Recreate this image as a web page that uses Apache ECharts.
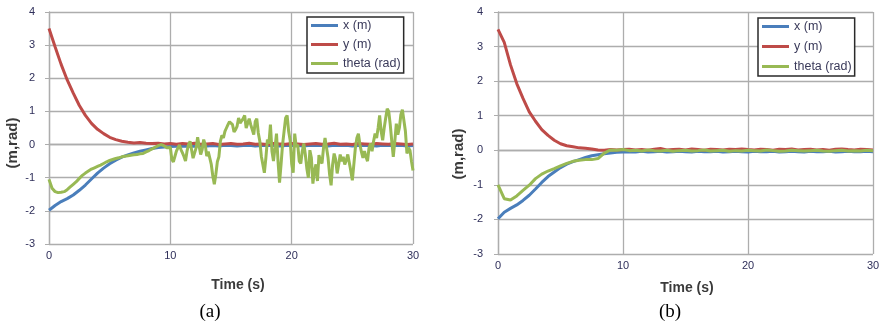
<!DOCTYPE html>
<html>
<head>
<meta charset="utf-8">
<script src="https://cdn.jsdelivr.net/npm/echarts@6/dist/echarts.min.js"></script>
<style>
  html, body { margin: 0; padding: 0; background: #ffffff; }
  #chart { width: 892px; height: 327px; }
</style>
</head>
<body>
<div id="chart"></div>
<script>
// Pose error responses: x (m), y (m), theta (rad) over 0–30 s.
// Smooth states sampled every 0.5 s; heading of run (a) every 0.25 s up to 10 s,
// then every 0.125 s once it starts to chatter.
const seriesNames = ['x (m)', 'y (m)', 'theta (rad)'];
const xTicks = [0, 10, 20, 30];
const yTicks = [-3, -2, -1, 0, 1, 2, 3, 4];
const panelLabels = ['(a)', '(b)'];

// run (a)
const xA = [-1.98,-1.84,-1.72,-1.63,-1.52,-1.38,-1.22,-1.04,-0.86,-0.71,
  -0.58,-0.47,-0.38,-0.31,-0.25,-0.2,-0.16,-0.12,-0.09,-0.07,
  -0.06,-0.05,-0.05,-0.04,-0.05,-0.03,-0.04,-0.03,-0.04,-0.02,
  -0.03,-0.04,-0.03,-0.02,-0.04,-0.03,-0.03,-0.02,-0.04,-0.03,
  -0.02,-0.03,-0.04,-0.02,-0.03,-0.03,-0.04,-0.02,-0.03,-0.02,
  -0.04,-0.03,-0.02,-0.03,-0.04,-0.02,-0.03,-0.03,-0.02,-0.04,
  -0.03];
const yA = [3.5,2.95,2.42,1.95,1.55,1.18,0.88,0.64,0.46,0.33,
  0.22,0.15,0.1,0.07,0.05,0.06,0.04,0.03,0.04,0.02,
  0.03,0.01,0.03,0.02,0.04,0.01,0.02,0.03,0.0,0.02,
  0.03,0.01,0.02,0.04,0.01,0.02,0.0,0.03,0.02,0.01,
  0.03,0.02,0.0,0.02,0.03,0.01,0.02,0.04,0.01,0.02,
  0.0,0.03,0.02,0.01,0.03,0.02,0.01,0.03,0.02,0.0,
  0.02];
// 0 … 9.75 s, step 0.25 s
const thetaAStart = [
  -1.05,-1.32,-1.42,-1.45,
  -1.44,-1.42,-1.36,-1.28,
  -1.2,-1.12,-1.02,-0.93,
  -0.86,-0.8,-0.74,-0.7,
  -0.66,-0.62,-0.57,-0.52,
  -0.48,-0.45,-0.42,-0.4,
  -0.37,-0.35,-0.34,-0.32,
  -0.31,-0.3,-0.28,-0.27,
  -0.22,-0.18,-0.13,-0.08,
  -0.03,0.0,-0.04,-0.1];
// 10 … 30 s, step 0.125 s
const thetaAChatter = [
  -0.08,-0.45,-0.52,-0.36,-0.2,-0.1,-0.01,-0.15,
  -0.25,-0.36,-0.5,-0.2,0.0,0.1,0.13,-0.41,
  -0.47,-0.1,0.22,-0.05,-0.3,-0.15,0.15,0.0,
  -0.35,-0.21,-0.2,-0.6,-0.95,-1.2,-0.9,-0.52,
  -0.37,0.1,0.28,0.2,0.4,0.5,0.6,0.69,
  0.75,0.6,0.38,0.45,0.55,0.8,0.65,0.7,
  0.78,0.88,0.5,0.55,0.78,0.6,0.45,0.3,
  0.7,0.78,0.35,0.1,-0.35,-0.6,-0.85,-0.4,
  0.15,0.03,0.6,-0.2,-0.5,-0.1,0.33,-0.5,
  -1.15,-0.6,0.0,0.4,0.8,0.88,0.4,0.13,
  -0.57,-0.85,0.33,-0.07,0.0,-0.5,-0.57,-0.2,
  0.03,-0.3,-0.72,-1.0,-0.17,-0.4,-1.18,-0.8,
  -0.6,-1.1,-0.32,-0.5,-0.57,-0.1,0.2,0.23,
  -0.4,-0.9,-1.23,-0.6,-0.27,-0.45,-0.87,-0.6,
  -0.3,-0.5,-0.37,-0.6,-0.47,-0.3,-0.55,-0.8,
  -1.08,-0.6,-0.1,0.2,0.33,0.0,-0.22,-0.4,
  -0.2,-0.37,-0.5,-0.1,0.03,-0.2,0.1,0.33,
  0.2,0.5,0.88,0.4,0.13,0.5,0.8,1.08,
  1.0,0.6,0.1,-0.37,0.1,0.63,0.3,0.5,
  0.9,1.05,1.08,0.4,-0.27,-0.1,-0.17,-0.5,
  -0.78];

// run (b)
const xB = [-1.98,-1.79,-1.68,-1.58,-1.45,-1.3,-1.12,-0.93,-0.76,-0.63,
  -0.5,-0.4,-0.33,-0.27,-0.21,-0.16,-0.13,-0.1,-0.08,-0.06,
  -0.05,-0.04,-0.05,-0.03,-0.05,-0.04,-0.03,-0.05,-0.04,-0.03,
  -0.04,-0.05,-0.03,-0.04,-0.04,-0.03,-0.05,-0.04,-0.03,-0.04,
  -0.05,-0.03,-0.04,-0.04,-0.03,-0.05,-0.04,-0.03,-0.04,-0.05,
  -0.03,-0.04,-0.04,-0.03,-0.05,-0.04,-0.03,-0.04,-0.04,-0.03,
  -0.04];
const yB = [3.5,3.12,2.47,1.93,1.5,1.11,0.84,0.6,0.43,0.29,
  0.19,0.13,0.1,0.07,0.06,0.04,0.01,0.0,0.02,0.01,
  0.02,0.03,0.01,0.02,0.0,0.03,0.05,0.01,0.02,0.03,
  0.01,0.04,0.02,0.0,0.03,0.02,0.01,0.03,0.02,0.04,
  0.02,0.01,0.03,0.02,0.0,0.03,0.02,0.04,0.01,0.02,
  0.03,0.01,0.02,0.0,0.03,0.04,0.02,0.01,0.03,0.02,
  0.01];
const thetaB = [-1.0,-1.4,-1.44,-1.32,-1.16,-1.01,-0.82,-0.69,-0.6,-0.53,
  -0.45,-0.38,-0.32,-0.29,-0.27,-0.27,-0.24,-0.08,0.01,0.0,
  0.02,-0.01,0.0,-0.02,0.01,-0.01,-0.02,0.0,-0.03,-0.01,
  0.0,-0.02,-0.01,0.01,-0.02,-0.01,0.0,-0.03,-0.01,-0.02,
  0.0,-0.01,-0.02,0.01,-0.01,-0.03,-0.02,0.0,-0.01,-0.02,
  -0.01,0.0,-0.02,-0.03,-0.01,0.0,-0.02,-0.01,-0.02,0.0,
  -0.01];

const colors = ['#4a7ebb', '#be4b48', '#98b954'];

// pair each sample with its time stamp
function timed(values, step, t0 = 0) {
  return values.map((v, i) => [+(t0 + i * step).toFixed(3), v]);
}

const gridColor = '#adadad';
const labelColor = '#2f2f5a';

function makeX(gridIndex, labelMargin) {
  return {
    type: 'value', gridIndex,
    min: xTicks[0], max: xTicks[xTicks.length - 1], interval: 10,
    axisLine: { show: true, lineStyle: { color: gridColor, width: 1.3 } },
    axisTick: { show: false },
    splitLine: { show: true, lineStyle: { color: gridColor, width: 1.3 } },
    axisLabel: {
      margin: labelMargin, color: labelColor,
      fontFamily: 'Liberation Sans', fontSize: 11
    }
  };
}
function makeY(gridIndex, labelMargin) {
  return {
    type: 'value', gridIndex,
    min: yTicks[0], max: yTicks[yTicks.length - 1], interval: 1,
    axisLine: { show: true, onZero: false, lineStyle: { color: gridColor, width: 1.3 } },
    axisTick: { show: true, length: 4, lineStyle: { color: gridColor } },
    splitLine: { show: true, lineStyle: { color: gridColor, width: 1.3 } },
    axisLabel: {
      margin: labelMargin, color: labelColor,
      fontFamily: 'Liberation Sans', fontSize: 11
    }
  };
}
function line(name, idx, data, color) {
  return {
    type: 'line', name, xAxisIndex: idx, yAxisIndex: idx,
    data, showSymbol: false, symbol: 'none',
    lineStyle: { color, width: 3 }, itemStyle: { color },
    animation: false
  };
}
function makeLegend(left, top, gap, fontSize) {
  return {
    left, top, orient: 'vertical',
    data: seriesNames,
    icon: 'rect', itemWidth: 27, itemHeight: 3, itemGap: gap,
    padding: [2, 3, 3, 4],
    backgroundColor: '#ffffff',
    borderColor: '#2a2a2a', borderWidth: 1.5,
    textStyle: { fontFamily: 'Liberation Sans', fontSize, lineHeight: 13, color: '#3a3a5a' },
    selectedMode: false
  };
}

const titleFont = 'bold 14px "Liberation Sans"';
const chart = echarts.init(document.getElementById('chart'), null, { renderer: 'canvas' });
chart.setOption({
  backgroundColor: '#ffffff',
  animation: false,
  grid: [
    { left: 49, top: 12, width: 364, height: 232 },
    { left: 498, top: 12, width: 375, height: 242 }
  ],
  xAxis: [makeX(0, 6), makeX(1, 6)],
  yAxis: [makeY(0, 14), makeY(1, 15)],
  legend: [makeLegend(307, 17, 6, 12.5), makeLegend(758, 18, 7, 12.5)],
  series: [
    line(seriesNames[0], 0, timed(xA, 0.5), colors[0]),
    line(seriesNames[1], 0, timed(yA, 0.5), colors[1]),
    line(seriesNames[2], 0, timed(thetaAStart, 0.25).concat(timed(thetaAChatter, 0.125, 10)), colors[2]),
    line(seriesNames[0], 1, timed(xB, 0.5), colors[0]),
    line(seriesNames[1], 1, timed(yB, 0.5), colors[1]),
    line(seriesNames[2], 1, timed(thetaB, 0.5), colors[2])
  ],
  graphic: [
    { type: 'text', x: 238, y: 285, style: { text: 'Time (s)', font: titleFont, fill: '#3a3a3a', align: 'center', verticalAlign: 'middle' } },
    { type: 'text', x: 687, y: 288, style: { text: 'Time (s)', font: titleFont, fill: '#3a3a3a', align: 'center', verticalAlign: 'middle' } },
    { type: 'text', x: 13, y: 143, rotation: Math.PI / 2, style: { text: '(m,rad)', font: 'bold 15px "Liberation Sans"', fill: '#3a3a3a', align: 'center', verticalAlign: 'middle' } },
    { type: 'text', x: 459, y: 154, rotation: Math.PI / 2, style: { text: '(m,rad)', font: 'bold 15px "Liberation Sans"', fill: '#3a3a3a', align: 'center', verticalAlign: 'middle' } },
    { type: 'text', x: 210, y: 312, style: { text: panelLabels[0], font: '19px "Liberation Serif"', fill: '#000000', align: 'center', verticalAlign: 'middle' } },
    { type: 'text', x: 670, y: 312, style: { text: panelLabels[1], font: '19px "Liberation Serif"', fill: '#000000', align: 'center', verticalAlign: 'middle' } }
  ]
});
</script>
</body>
</html>
